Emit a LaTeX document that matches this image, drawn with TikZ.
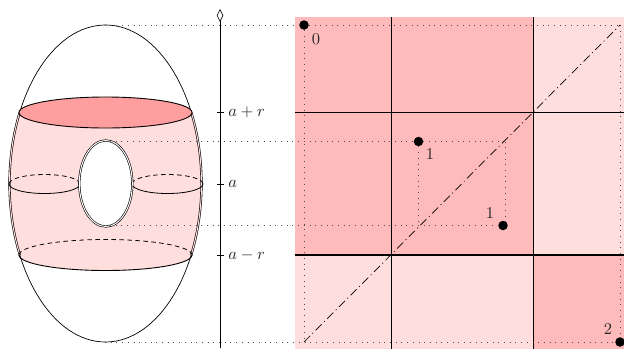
\documentclass[tikz,border=0pt]{standalone}
\usetikzlibrary{arrows.meta}
\definecolor{lightp}{HTML}{FFDEDE}
\definecolor{midp}{HTML}{FFBBBB}
\definecolor{darkp}{HTML}{FF9E9E}
\tikzset{
  thinline/.style={line width=0.7pt,black},
  gridline/.style={line width=0.9pt,black},
  dualline/.style={line width=0.6pt,double=lightp,double distance=1pt},
  dotline/.style={line width=0.8pt,dash pattern=on 0.8pt off 4.9pt,black!70},
  dashline/.style={line width=0.8pt,dash pattern=on 4.5pt off 3.5pt},
  diagline/.style={line width=0.7pt,dash pattern=on 8.5pt off 3.5pt on 1pt off 3.5pt},
  lbl/.style={scale=1.65,inner sep=0pt,text=black!85},
  dotnode/.style={circle,fill=black,inner sep=0pt,minimum size=9.5pt},
}
\begin{document}
\begin{tikzpicture}[x=1pt,y=-1pt]
\useasboundingbox (0,0) rectangle (624,349);
% right panel
\fill[lightp] (295,17) rectangle (624,349);
\fill[midp] (295,17) rectangle (533.5,255);
\fill[midp] (533.5,255) rectangle (624,349);
\coordinate (gt1) at (391,17); \coordinate (gb1) at (391,349);
\coordinate (gt2) at (533.5,17); \coordinate (gb2) at (533.5,349);
\coordinate (gl1) at (295,112); \coordinate (gr1) at (624,112);
\coordinate (gl2) at (295,255); \coordinate (gr2) at (624,255);
\draw[gridline] (gt1)--(gb1) (gt2)--(gb2) (gl1)--(gr1);
\draw[gridline,line width=1.1pt] (gl2)--(gr2);
% torus
\begin{scope}
\clip (105.5,183.5) ellipse [x radius=96,y radius=158.5];
\fill[lightp] (105.5,255) ellipse [x radius=86.5,y radius=15.5];
\fill[lightp] (9,112) rectangle (203,255);
\end{scope}
\draw[thinline] (105.5,183.5) ellipse [x radius=96,y radius=158.5];
\draw[dualline] ([shift={(105.5,183.5)}]206.6:96 and 158.5) arc [start angle=206.6,end angle=153,x radius=96,y radius=158.5];
\draw[dualline] ([shift={(105.5,183.5)}]-26.6:96 and 158.5) arc [start angle=-26.6,end angle=27,x radius=96,y radius=158.5];
\draw[line width=0.9pt,fill=darkp] (105.5,112.5) ellipse [x radius=86.5,y radius=15.5];
\draw[line width=0.9pt] (19,255) arc [start angle=180,end angle=0,x radius=86.5,y radius=15.5];
\draw[dashline] (19,255) arc [start angle=180,end angle=360,x radius=86.5,y radius=15.5];
% hole and cross-sections
\draw[thinline,line width=0.8pt] (9,184) arc [start angle=180,end angle=0,x radius=35.5,y radius=9.5];
\draw[dashline] (9,184) arc [start angle=180,end angle=360,x radius=35.5,y radius=9.5];
\draw[thinline,line width=0.8pt] (132,184) arc [start angle=180,end angle=0,x radius=35.5,y radius=9.5];
\draw[dashline] (132,184) arc [start angle=180,end angle=360,x radius=35.5,y radius=9.5];
\draw[dualline,double=white,fill=white] (105.8,183.5) ellipse [x radius=26.5,y radius=43];
% axis
\coordinate (axb) at (220,348); \coordinate (axt) at (220,9);
\draw[thinline,-{Diamond[open,length=13pt,width=6.5pt,line width=0.6pt]}] (axb)--(axt);
\node[lbl,anchor=west] (lar) at (228,112) {$a+r$};
\node[lbl,anchor=west] (la) at (228,184) {$a$};
\node[lbl,anchor=west] (lmr) at (228,255) {$a-r$};
\foreach \y/\n in {112/a,184/b,255/c}{
  \coordinate (tl\n) at (216.5,\y); \coordinate (tr\n) at (224,\y);
  \draw[thinline] (tl\n)--(tr\n);
}
% points and dotted guides
\node[dotnode] (p0) at (304,25) {};
\node[dotnode] (p1) at (418.5,141.5) {};
\node[dotnode] (p3) at (503,225.5) {};
\node[dotnode] (p2) at (620,342) {};
\coordinate (e1) at (105,25); \coordinate (e2) at (110,141.5);
\coordinate (e3) at (110,225.5); \coordinate (e4) at (105,342);
\coordinate (c1) at (620,25); \coordinate (c2) at (304,342);
\coordinate (c3) at (505.5,141.5); \coordinate (c3b) at (505.5,222); \coordinate (c4) at (418.5,225.5);
\draw[dotline] (e1)--(p0) (p0)--(c1) (c1)--(p2) (p0)--(c2) (e4)--(p2);
\draw[dotline] (e2)--(p1) (p1)--(c3) (c3)--(c3b) (p1)--(c4) (e3)--(p3);
\draw[diagline] (c2)--(c1);
\node[lbl] (l0) at (316,39.5) {$0$};
\node[lbl] (l1) at (430,154.5) {$1$};
\node[lbl] (l1b) at (490,213) {$1$};
\node[lbl] (l2) at (608,329) {$2$};
\end{tikzpicture}
\end{document}
